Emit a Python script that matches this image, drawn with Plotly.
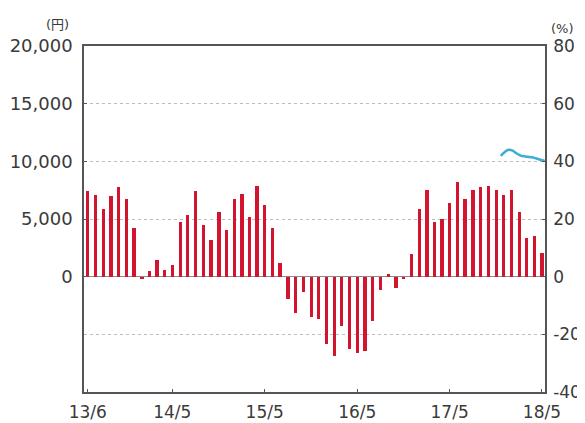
import plotly.graph_objects as go
import pandas as pd

# Monthly categories 13/6 .. 18/5
months = pd.date_range("2013-06-01", periods=60, freq="MS")

# Year-on-year change (%), right axis
yoy_pct = [
    29.7, 28.3, 23.3, 27.9, 31.1, 27.1, 16.8, -0.8, 2.1, 5.7, 2.3, 3.9,
    18.9, 21.4, 29.7, 17.8, 12.6, 22.5, 16.2, 27.1, 28.5, 20.7, 31.3, 24.9,
    16.8, 4.9, -7.8, -12.7, -5.3, -13.9, -14.7, -23.4, -27.6, -17.2, -25.2, -26.3,
    -25.9, -15.5, -4.6, 1.0, -3.9, -0.8, 7.8, 23.3, 30.1, 18.9, 19.9, 25.7,
    32.9, 27.1, 29.9, 31.1, 31.3, 30.1, 28.2, 30.1, 22.6, 13.5, 14.0, 8.2,
]

# Price level (yen), left axis
line_dates = [
    "2017-11-19", "2017-12-05", "2017-12-20", "2018-01-05", "2018-01-20",
    "2018-02-06", "2018-02-25", "2018-03-13", "2018-04-01", "2018-04-15",
    "2018-05-01", "2018-05-12",
]
line_yen = [
    10480, 10800, 11000, 10920, 10700,
    10500, 10420, 10370, 10300, 10200,
    10100, 10040,
]

x_tick_vals = ["2013-06-01", "2014-05-01", "2015-05-01", "2016-05-01", "2017-05-01", "2018-05-01"]
x_tick_text = ["13/6", "14/5", "15/5", "16/5", "17/5", "18/5"]
left_tick_vals = [0, 5000, 10000, 15000, 20000]
left_tick_text = ["0", "5,000", "10,000", "15,000", "20,000"]
right_tick_vals = [-40, -20, 0, 20, 40, 60, 80]
right_tick_text = ["-40", "-20", "0", "20", "40", "60", "80"]

FONT = "DejaVu Sans, Noto Sans CJK JP, sans-serif"
AX = "#555555"
TXT = "#3a3a3a"
FS = 18

fig = go.Figure()
fig.add_trace(go.Scatter(
    x=line_dates, y=line_yen, mode="lines", yaxis="y",
    line=dict(color="#3aaed8", width=2.5, shape="spline"),
    showlegend=False, hoverinfo="skip",
))
fig.add_trace(go.Bar(
    x=months, y=yoy_pct, yaxis="y2",
    marker=dict(color="#d3142f", line=dict(width=0)),
    width=13 * 86400000,
    showlegend=False,
))

fig.update_layout(
    width=577, height=415,
    margin=dict(l=76, r=40, t=38, b=31),
    paper_bgcolor="white", plot_bgcolor="white",
    font=dict(family=FONT, size=FS, color=TXT),
    xaxis=dict(
        type="date", range=["2013-05-17", "2018-05-13"],
        tickvals=x_tick_vals, ticktext=x_tick_text,
        showline=True, linecolor=AX, linewidth=1.5, mirror=True,
        ticks="inside", ticklen=3, tickcolor=AX,
        showgrid=False, zeroline=False, automargin=False,
        ticklabelstandoff=4,
        tickfont=dict(size=17, color=TXT),
    ),
    yaxis=dict(
        range=[-10000, 20000],
        tickvals=left_tick_vals, ticktext=left_tick_text,
        showline=True, linecolor=AX, linewidth=1.5,
        ticks="inside", ticklen=3, tickcolor=AX,
        showgrid=False, zeroline=False, automargin=False,
        ticklabelstandoff=6,
        tickfont=dict(size=FS, color=TXT),
    ),
    yaxis2=dict(
        range=[-40, 80], overlaying="y", side="right",
        tickvals=right_tick_vals, ticktext=right_tick_text,
        showline=True, linecolor=AX, linewidth=1.5,
        ticks="inside", ticklen=3, tickcolor=AX,
        showgrid=True, gridcolor="#bdbdbd", griddash="3px,3px", gridwidth=1,
        zeroline=True, zerolinecolor="#8a8a8a", zerolinewidth=1,
        automargin=False,
        ticklabelstandoff=3,
        tickfont=dict(size=17, color=TXT),
    ),
    bargap=0,
    annotations=[
        dict(text="(円)", xref="paper", yref="paper", x=-0.058, y=1.0,
             yshift=22, xanchor="center", yanchor="middle", showarrow=False,
             font=dict(size=13, color=TXT)),
        dict(text="(%)", xref="paper", yref="paper", x=1.037, y=1.0,
             yshift=18, xanchor="center", yanchor="middle", showarrow=False,
             font=dict(size=13, color=TXT)),
    ],
)

fig.write_html("out.html")
